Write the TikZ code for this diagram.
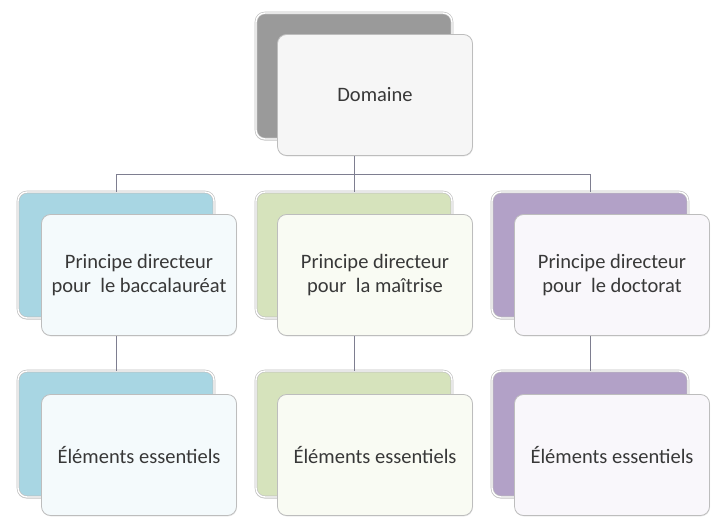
\documentclass[tikz,border=0pt]{standalone}
\usepackage{fontspec}
\setmainfont{Carlito}
\usetikzlibrary{shadows}
\definecolor{backgray}{HTML}{9A9A9A}
\definecolor{backblue}{HTML}{A8D6E3}
\definecolor{backgreen}{HTML}{D6E3BC}
\definecolor{backpurple}{HTML}{B2A1C7}
\definecolor{frgray}{HTML}{F6F6F6}
\definecolor{frblue}{HTML}{F4FAFC}
\definecolor{frgreen}{HTML}{F9FBF3}
\definecolor{frpurple}{HTML}{F9F7FB}
\definecolor{linecol}{HTML}{7E7E90}
\definecolor{txtcol}{HTML}{383838}
\definecolor{edgecol}{HTML}{BDBDBD}
\tikzset{
  backbox/.style={rectangle, rounded corners=9pt, minimum width=196pt, minimum height=126pt,
    inner sep=0pt, draw=edgecol, line width=0.6pt, double=white, double distance=1.4pt,
    drop shadow={opacity=0.3, shadow xshift=-0.8pt, shadow yshift=-1.5pt}},
  frontbox/.style={rectangle, rounded corners=9pt, minimum width=195pt, minimum height=121pt,
    inner sep=0pt, draw=edgecol, line width=0.8pt, text=txtcol, align=center,
    font=\fontsize{20.5}{24}\selectfont,
    drop shadow={opacity=0.15, shadow xshift=0.5pt, shadow yshift=-1pt}},
  conn/.style={draw=linecol, line width=0.9pt}
}
\begin{document}
\begin{tikzpicture}[x=1pt,y=-1pt]
\useasboundingbox (0,0) rectangle (714,519);
% top
\node[backbox, fill=backgray] (topB) at (354,76) {};
\node[frontbox, fill=frgray] (topF) at (375,95) {Domaine};
% level 2
\node[backbox, fill=backblue] (aB) at (116,255) {};
\node[frontbox, fill=frblue] (aF) at (139,275) {Principe directeur\\pour\ \ le baccalauréat};
\node[backbox, fill=backgreen] (bB) at (354,255) {};
\node[frontbox, fill=frgreen] (bF) at (375,275) {Principe directeur\\pour\ \ la maîtrise};
\node[backbox, fill=backpurple] (cB) at (590,255) {};
\node[frontbox, fill=frpurple] (cF) at (612,275) {Principe directeur\\pour\ \ le doctorat};
% level 3
\node[backbox, fill=backblue] (aB2) at (116,434) {};
\node[frontbox, fill=frblue] (aF2) at (139,455) {Éléments essentiels};
\node[backbox, fill=backgreen] (bB2) at (354,434) {};
\node[frontbox, fill=frgreen] (bF2) at (375,455) {Éléments essentiels};
\node[backbox, fill=backpurple] (cB2) at (590,434) {};
\node[frontbox, fill=frpurple] (cF2) at (612,455) {Éléments essentiels};
% connectors
\coordinate (bus) at (0,174.5);
\draw[conn] (topB |- topF.south) -- (topB |- bus);
\draw[conn] (aB.north) -- (aB |- bus) -- (cB |- bus) -- (cB.north);
\draw[conn] (bB |- bus) -- (bB.north);
\draw[conn] (aB |- aF.south) -- (aB2.north);
\draw[conn] (bB |- bF.south) -- (bB2.north);
\draw[conn] (cB |- cF.south) -- (cB2.north);
\end{tikzpicture}
\end{document}
